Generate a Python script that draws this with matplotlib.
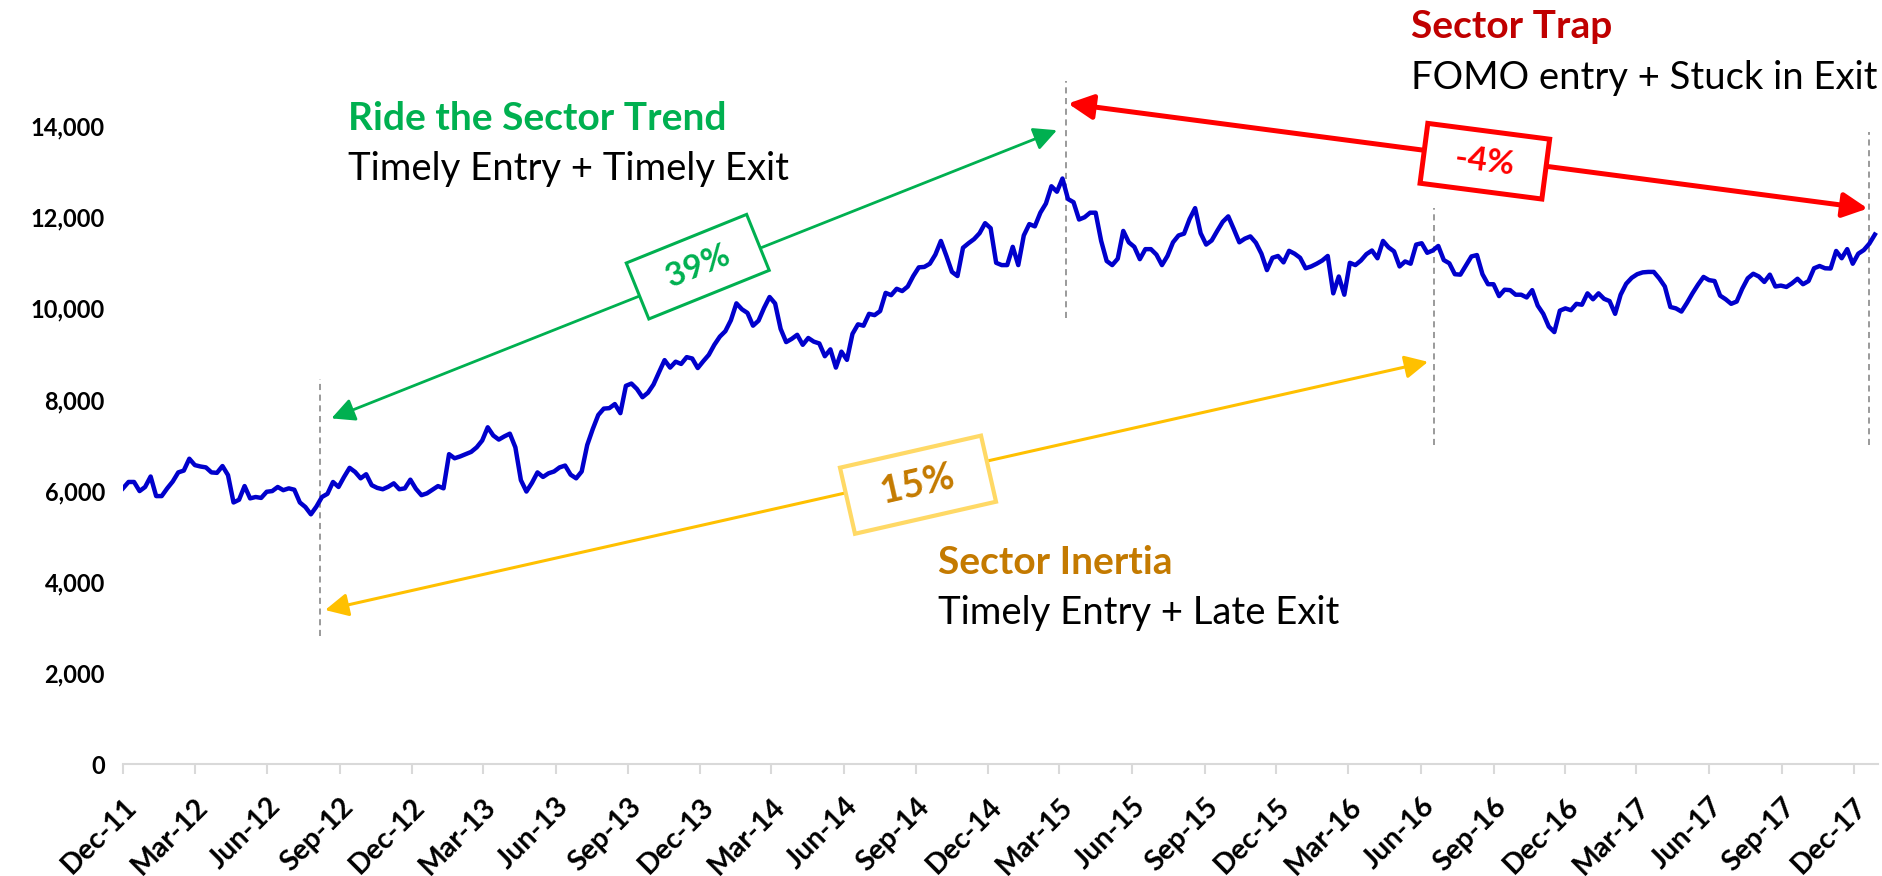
import pandas as pd
import matplotlib.pyplot as plt

plt.rcParams['font.family'] = ['Lato', 'DejaVu Sans']

# Weekly closes, split by period
close_dec11_jun13 = [
    6050, 6190, 6190, 5990, 6080, 6310, 5880, 5880, 6050, 6200,
    6400, 6440, 6700, 6560, 6530, 6510, 6400, 6390, 6540, 6340,
    5740, 5800, 6100, 5830, 5860, 5840, 5975, 5990, 6080, 6010,
    6050, 6020, 5740, 5640, 5480, 5650, 5860, 5930, 6190, 6080,
    6300, 6500, 6410, 6270, 6360, 6120, 6060, 6030, 6085, 6160,
    6030, 6050, 6240, 6040, 5900, 5940, 6020, 6100, 6050, 6800,
    6710, 6750, 6800, 6850, 6950, 7100, 7390, 7210, 7120, 7190,
    7250, 6950, 6230, 5980, 6170, 6400, 6300, 6380, 6420, 6510,
    6550,
]
close_jun13_mar15 = [
    6350, 6270, 6420, 7000, 7350, 7660, 7800, 7810, 7900, 7700,
    8300, 8350, 8230, 8050, 8150, 8330, 8600, 8864, 8700, 8830,
    8780, 8930, 8900, 8690, 8840, 8980, 9200, 9380, 9500, 9740,
    10110, 9980, 9900, 9620, 9730, 10010, 10250, 10108, 9550, 9260,
    9330, 9420, 9200, 9350, 9270, 9230, 8950, 9100, 8700, 9050,
    8870, 9440, 9650, 9620, 9880, 9852, 9940, 10340, 10290, 10430,
    10380, 10480, 10710, 10900, 10910, 10980, 11180, 11480, 11150, 10800,
    10710, 11330, 11430, 11520, 11650, 11870, 11760, 11000, 10950,
]
close_mar15_jun16 = [
    10950, 11351, 10950, 11600, 11850, 11800, 12100, 12300, 12680, 12560,
    12850, 12400, 12330, 11950, 12000, 12100, 12100, 11480, 11040, 10950,
    11090, 11700, 11450, 11350, 11080, 11300, 11300, 11180, 10950, 11150,
    11450, 11600, 11640, 11960, 12200, 11650, 11400, 11490, 11700, 11900,
    12020, 11740, 11450, 11530, 11580, 11440, 11200, 10840, 11110, 11150,
    11010, 11263, 11200, 11110, 10880, 10920, 10980, 11050, 11150, 10330,
    10700, 10300, 11000, 10950, 11050, 11190, 11270, 11100, 11480, 11340,
    11250, 10920, 11030, 10980, 11400, 11430, 11220, 11270, 11370, 11060,
]
close_jun16_dec17 = [
    10990, 10750, 10740, 10940, 11140, 11170, 10750, 10530, 10530, 10270,
    10410, 10400, 10300, 10300, 10240, 10400, 10060, 9880, 9600, 9480,
    9950, 10000, 9960, 10100, 10080, 10330, 10200, 10330, 10210, 10160,
    9880, 10300, 10540, 10670, 10750, 10790, 10800, 10800, 10656, 10480,
    10030, 10000, 9930, 10120, 10330, 10520, 10690, 10620, 10600, 10280,
    10200, 10100, 10150, 10430, 10660, 10760, 10700, 10580, 10740, 10480,
    10500, 10470, 10550, 10650, 10530, 10600, 10880, 10930, 10880, 10875,
    11260, 11100, 11300, 10980, 11200, 11280, 11420, 11620,
]

closes = close_dec11_jun13 + close_jun13_mar15 + close_mar15_jun16 + close_jun16_dec17
dates = pd.date_range('2011-12-01', periods=len(closes), freq='7D')

quarter_ticks = pd.date_range('2011-12-01', '2017-12-01', freq='3MS')
y_ticks = [0, 2000, 4000, 6000, 8000, 10000, 12000, 14000]

# entry / exit markers
entry_date = pd.Timestamp('2012-08-07')
peak_date = pd.Timestamp('2015-03-10')
late_exit_date = pd.Timestamp('2016-06-17')
end_date = pd.Timestamp('2017-12-21')

GREEN = '#00B050'
RED = '#FF0000'
DARK_RED = '#C00000'
GOLD = '#FFC000'
GOLD_BOX = '#FFD966'
AMBER_TXT = '#C47A00'

W, H = 1882, 876
fig = plt.figure(figsize=(W / 100, H / 100), dpi=100)
ax = fig.add_axes([123 / W, 1 - 764 / H, (1878 - 123) / W, (764 - 35) / H])

ax.plot(dates, closes, color='#0000CC', lw=3.2, zorder=3)
ax.set_xlim(pd.Timestamp('2011-12-01'), pd.Timestamp('2018-01-01'))
ax.set_ylim(0, 16000)

for s in ['left', 'top', 'right']:
    ax.spines[s].set_visible(False)
ax.spines['bottom'].set_color('#D9D9D9')
ax.spines['bottom'].set_linewidth(1.5)

ax.set_yticks(y_ticks)
ax.set_yticklabels([f'{v:,}' for v in y_ticks], fontsize=17, fontweight='bold')
ax.tick_params(axis='y', length=0, pad=13)

ax.set_xticks(quarter_ticks)
ax.set_xticklabels([d.strftime('%b-%y') for d in quarter_ticks], rotation=45,
                   ha='right', va='top', rotation_mode='anchor',
                   fontsize=20.5, fontweight='bold')
ax.tick_params(axis='x', length=7, width=1.5, color='#D9D9D9', pad=14)

# dashed markers
dash = dict(colors='#7F7F7F', linestyles=(0, (4, 3)), lw=1.1, zorder=2)
ax.vlines(entry_date, 2800, 8450, **dash)
ax.vlines(peak_date, 9780, 15000, **dash)
ax.vlines(late_exit_date, 7000, 12200, **dash)
ax.vlines(end_date, 7000, 13870, **dash)


def double_arrow(x0, y0, x1, y1, color, lw, scale):
    ax.annotate('', xy=(x1, y1), xytext=(x0, y0),
                arrowprops=dict(arrowstyle='<|-|>,head_length=1.0,head_width=0.5',
                                color=color, lw=lw, shrinkA=0, shrinkB=0,
                                mutation_scale=scale), zorder=4)


double_arrow(pd.Timestamp('2012-08-21'), 7585, pd.Timestamp('2015-02-26'), 13910, GREEN, 2.0, 14)
double_arrow(pd.Timestamp('2015-03-12'), 14496, pd.Timestamp('2017-12-19'), 12192, RED, 3.6, 15)
double_arrow(pd.Timestamp('2012-08-13'), 3379, pd.Timestamp('2016-06-10'), 8827, GOLD, 2.2, 14)

# return boxes
ax.text(pd.Timestamp('2013-11-28'), 10915, '  39%  ', rotation=22, rotation_mode='anchor',
        ha='center', va='center', fontsize=24, fontweight='bold', color=GREEN, zorder=5,
        bbox=dict(boxstyle='square,pad=0.47', fc='white', ec=GREEN, lw=2.2))
ax.text(pd.Timestamp('2016-08-21'), 13230, '  -4%  ', rotation=-7.4, rotation_mode='anchor',
        ha='center', va='center', fontsize=24, fontweight='bold', color=RED, zorder=5,
        bbox=dict(boxstyle='square,pad=0.47', fc='white', ec=RED, lw=3.6))
ax.text(pd.Timestamp('2014-09-03'), 6130, '  15%  ', rotation=12.8, rotation_mode='anchor',
        ha='center', va='center', fontsize=27, fontweight='bold', color=AMBER_TXT, zorder=5,
        bbox=dict(boxstyle='square,pad=0.45', fc='white', ec=GOLD_BOX, lw=3.0))


def px(x, y):
    return x / W, 1 - y / H


fig.text(*px(348, 130), 'Ride the Sector Trend', color=GREEN, fontsize=28,
         fontweight='bold', va='baseline')
fig.text(*px(348, 180), 'Timely Entry + Timely Exit', color='black', fontsize=27.5,
         va='baseline')
fig.text(*px(1411, 38), 'Sector Trap', color=DARK_RED, fontsize=28,
         fontweight='bold', va='baseline')
fig.text(*px(1411, 89), 'FOMO entry + Stuck in Exit', color='black', fontsize=27.5,
         va='baseline')
fig.text(*px(938, 574), 'Sector Inertia', color=AMBER_TXT, fontsize=28,
         fontweight='bold', va='baseline')
fig.text(*px(938, 624), 'Timely Entry + Late Exit', color='black', fontsize=27.5,
         va='baseline')

fig.savefig('out.png', dpi=100)
